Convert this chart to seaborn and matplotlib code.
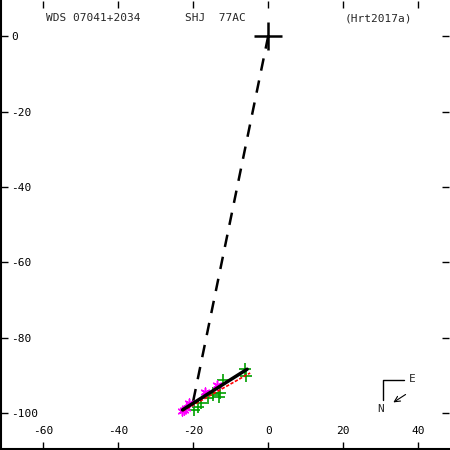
import matplotlib
matplotlib.use("Agg")
import matplotlib.pyplot as plt
import seaborn as sns
import pandas as pd

# observations (green +) and measurements (magenta *)
obs_x = [-6.1, -5.8, -11.9, -13.2, -14.8, -14.6, -16.1, -18.0, -19.8, -18.8, -12.7]
obs_y = [-88.4, -90.2, -91.3, -95.8, -95.2, -94.7, -96.0, -97.4, -99.2, -98.4, -94.7]
meas_x = [-13.5, -16.7, -21.2, -22.5, -23.0, -22.0]
meas_y = [-92.6, -94.4, -97.4, -99.2, -99.5, -98.7]

fit_x = [-22.8, -5.6]
fit_y = [-99.2, -88.4]
old_x = [-22.8, -4.8]
old_y = [-99.5, -89.4]
link_x = [0.0, -20.0]
link_y = [0.0, -97.0]

xticks = [-60, -40, -20, 0, 20, 40]
yticks = [0, -20, -40, -60, -80, -100]

sns.set_style("white")
plt.rcParams['font.family'] = ['DejaVu Sans Mono', 'DejaVu Sans']
plt.rcParams['axes.unicode_minus'] = False

fig = plt.figure(figsize=(4.5, 4.5), dpi=100)
ax = fig.add_axes([0.003, 0.003, 0.994, 0.994])

obs = pd.DataFrame({'x': obs_x, 'y': obs_y})
meas = pd.DataFrame({'x': meas_x, 'y': meas_y})

ax.plot(link_x, link_y, color='black', lw=1.8, ls=(0, (5, 4)))
sns.scatterplot(data=obs, x='x', y='y', marker='+', color='#00a000', s=80,
                linewidth=1.2, ax=ax, zorder=3)
sns.scatterplot(data=meas, x='x', y='y', marker=(6, 2, 0), color='#ff00ff', s=40,
                linewidth=1.1, edgecolor='#ff00ff', ax=ax, zorder=3)
ax.plot(old_x, old_y, color='red', lw=1.2, ls=(0, (2, 1)), zorder=4)
ax.plot(fit_x, fit_y, color='black', lw=2.5, zorder=4)
ax.plot([0], [0], marker='+', color='black', ms=20, mew=1.8)

ax.set_xlim(-71.1, 48.1)
ax.set_ylim(-109.5, 9.3)
ax.set_xticks(xticks)
ax.set_yticks(yticks)
ax.set_xlabel('')
ax.set_ylabel('')

ax.tick_params(direction='in', length=5, width=1, top=True, right=True,
               left=True, bottom=True, labelsize=8, colors='black')
ax.tick_params(axis='x', pad=-16)
ax.tick_params(axis='y', pad=-7)
for lab in ax.get_yticklabels():
    lab.set_horizontalalignment('left')
for s in ['top', 'right']:
    ax.spines[s].set_visible(False)
for s in ['left', 'bottom']:
    ax.spines[s].set_color('black')
    ax.spines[s].set_linewidth(1.5)

ax.text(45 / 450, 1 - 17 / 450, 'WDS 07041+2034', transform=ax.transAxes,
        fontsize=8, va='center', ha='left')
ax.text(185 / 450, 1 - 17 / 450, 'SHJ  77AC', transform=ax.transAxes,
        fontsize=8, va='center', ha='left')
ax.text(345 / 450, 1 - 17 / 450, '(Hrt2017a)', transform=ax.transAxes,
        fontsize=8, va='center', ha='left')

# orientation marker
tr = ax.transAxes
ax.plot([384 / 450, 384 / 450, 405 / 450], [1 - 401 / 450, 1 - 381 / 450, 1 - 381 / 450],
        color='black', lw=1, transform=tr)
ax.text(410 / 450, 1 - 380 / 450, 'E', transform=tr, fontsize=8, va='center', ha='left')
ax.text(382 / 450, 1 - 410 / 450, 'N', transform=tr, fontsize=8, va='center', ha='center')
ax.annotate('', xy=(392 / 450, 1 - 405 / 450), xytext=(409 / 450, 1 - 394 / 450),
            xycoords=tr, textcoords=tr,
            arrowprops=dict(arrowstyle='->', color='black', lw=0.8))

fig.savefig('out.png', dpi=100)
